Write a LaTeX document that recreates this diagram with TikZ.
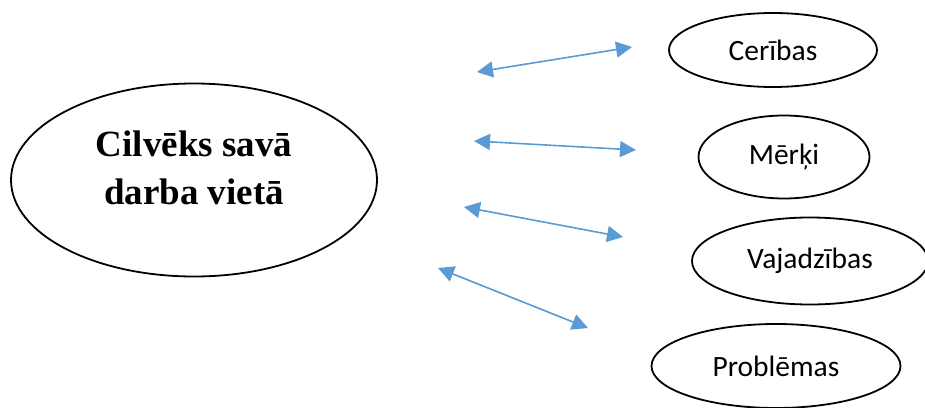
\documentclass[tikz,border=0pt]{standalone}
\usepackage{fontspec}
\setmainfont{Liberation Serif}
\newfontfamily\labelfont{Carlito}
\usetikzlibrary{shapes.geometric,arrows.meta}
\definecolor{arrowblue}{RGB}{91,155,213}

\begin{document}
\begin{tikzpicture}[x=1pt, y=-1pt,
        oval/.style = {draw, ellipse, line width=1.8pt, inner sep=0pt},
        small/.style = {font=\labelfont\fontsize{29.5}{34}\selectfont},
        link/.style = {arrowblue, line width=1.6pt, {Triangle[length=16pt,width=16pt]}-{Triangle[length=16pt,width=16pt]}}]
        \useasboundingbox (0,0) rectangle (925,407);

        % centrs
        \node [oval, minimum width=366pt, minimum height=193pt] (cilveks) at (194,180) {};
        \node [align=center, font=\fontsize{37}{48}\selectfont\bfseries] (cilvekstxt) at (194,168) {Cilvēks savā\\darba vietā};

        % labā puse
        \node [oval, small, minimum width=208pt, minimum height=74pt] (ceribas) at (773,50) {Cerības};
        \node [oval, small, minimum width=171pt, minimum height=83pt] (merki) at (784,157) {Mērķi};
        \node [oval, small, minimum width=236pt, minimum height=87pt] (vajadzibas) at (810,261) {Vajadzības};
        \node [oval, small, minimum width=249pt, minimum height=84pt] (problemas) at (776,366) {Problēmas};

        % bultas
        \coordinate (a1) at (477,72);   \coordinate (b1) at (632,47);
        \coordinate (a2) at (474,141);  \coordinate (b2) at (636,150);
        \coordinate (a3) at (464,207);  \coordinate (b3) at (623,237);
        \coordinate (a4) at (438,268);  \coordinate (b4) at (588,328);

        \draw [link] (a1) -- (b1);
        \draw [link] (a2) -- (b2);
        \draw [link] (a3) -- (b3);
        \draw [link] (a4) -- (b4);
\end{tikzpicture}
\end{document}
